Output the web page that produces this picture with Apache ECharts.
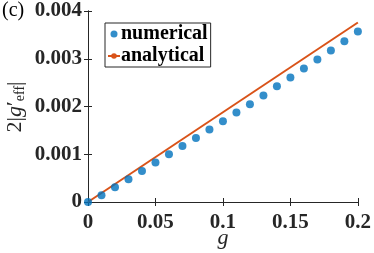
<!DOCTYPE html>
<html>
<head>
<meta charset="utf-8">
<script src="https://cdn.jsdelivr.net/npm/echarts@6/dist/echarts.min.js"></script>
<style>html,body{margin:0;padding:0;background:#fff}#c{width:374px;height:253px}</style>
</head>
<body>
<div id="c"></div>
<script>
const gValues = [0,0.01,0.02,0.03,0.04,0.05,0.06,0.07,0.08,0.09,0.1,0.11,0.12,0.13,0.14,0.15,0.16,0.17,0.18,0.19,0.2];
const numerical = [0,0.00014,0.000308,0.000476,0.00065,0.000826,0.001,0.001174,0.001342,0.001518,0.001692,0.001874,0.002048,0.002231,0.002426,0.002608,0.002797,0.002985,0.003174,0.003369,0.003572];
const analyticalG = [0, 0.2];
const analytical = [0, 0.00376];

const serif = 'Liberation Serif';
const chart = echarts.init(document.getElementById('c'), null, {renderer:'canvas'});
const axisLine = {show:true, lineStyle:{color:'#262626', width:1}};
const tick = {show:true, inside:true, length:4, lineStyle:{color:'#262626', width:1}};
chart.setOption({
  animation:false,
  textStyle:{fontFamily:serif},
  grid:{left:88, right:15, top:11, bottom:51, containLabel:false},
  legend:{
    left:105, top:23, orient:'vertical', itemGap:2,
    padding:[1,3,1,2],
    backgroundColor:'#fff', borderColor:'#262626', borderWidth:1,
    itemWidth:12, itemHeight:7,
    textStyle:{fontFamily:serif, fontWeight:'bold', fontSize:20, color:'#000', padding:[0,0,0,-4]},
    data:[{name:'numerical', icon:'circle'}, {name:'analytical'}]
  },
  xAxis:[{
    type:'value', min:0, max:0.2, interval:0.05,
    axisLine:axisLine, axisTick:tick, splitLine:{show:false},
    axisLabel:{margin:10, fontFamily:serif, fontWeight:'bold', fontSize:21, color:'#262626',
      formatter:v=>String(+v.toFixed(2))}
  },{
    type:'value', min:0, max:0.2, interval:0.05, position:'top',
    axisLine:axisLine, axisTick:tick, axisLabel:{show:false}, splitLine:{show:false}
  }],
  yAxis:[{
    type:'value', min:0, max:0.004, interval:0.001,
    axisLine:axisLine, axisTick:tick, splitLine:{show:false},
    axisLabel:{margin:6, fontFamily:serif, fontWeight:'bold', fontSize:21, color:'#262626',
      formatter:v=>String(+v.toFixed(3))}
  },{
    type:'value', min:0, max:0.004, interval:0.001, position:'right',
    axisLine:axisLine, axisTick:tick, axisLabel:{show:false}, splitLine:{show:false}
  }],
  graphic:[
    {type:'text', left:2, top:1, style:{text:'(c)', fontFamily:serif, fontSize:20, fill:'#000'}},
    {type:'text', x:15, y:107, rotation:Math.PI/2,
      style:{
        text:'{n|2|}{i|g}{n|′}{s|eff}{n||}', align:'center', verticalAlign:'middle',
        rich:{
          n:{fontFamily:serif, fontSize:22, fill:'#262626'},
          i:{fontFamily:serif, fontStyle:'italic', fontSize:22, fill:'#262626'},
          s:{fontFamily:serif, fontSize:14, fill:'#262626', padding:[10,0,0,0]}
        }
      }},
    {type:'text', x:223, y:238,
      style:{text:'g', fontFamily:serif, fontStyle:'italic', fontSize:22, fill:'#262626', align:'center', verticalAlign:'middle'}}
  ],
  series:[{
    name:'numerical', type:'scatter', symbol:'circle', symbolSize:8,
    itemStyle:{color:'#0072BD'},
    data:gValues.map((g,i)=>[g, numerical[i]]), z:3
  },{
    name:'analytical', type:'line', symbol:'none',
    lineStyle:{color:'#D95319', width:2}, itemStyle:{color:'#D95319'},
    data:analyticalG.map((g,i)=>[g, analytical[i]]), z:2
  }]
});
</script>
</body>
</html>
